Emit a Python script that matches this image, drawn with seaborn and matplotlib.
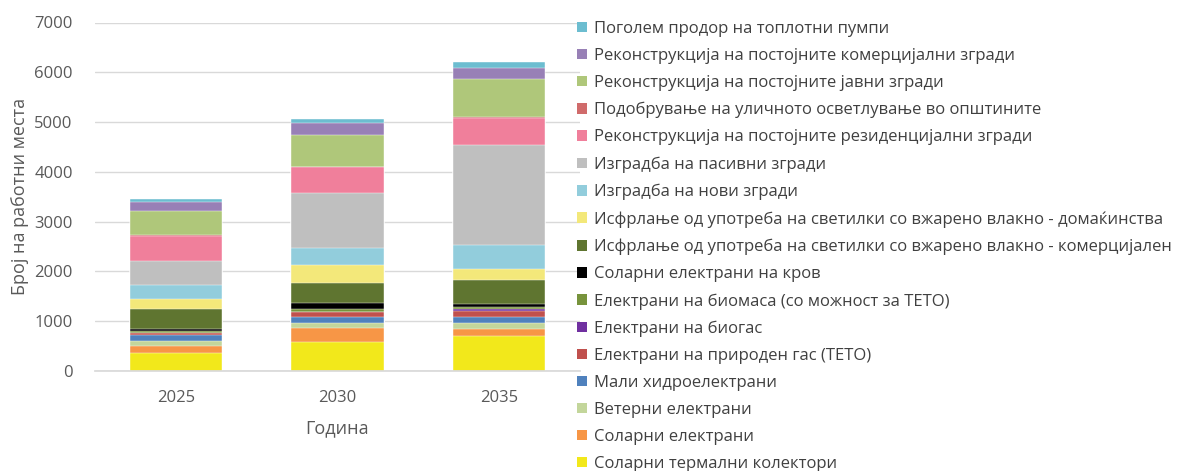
import numpy as np
import pandas as pd
import matplotlib
matplotlib.use("Agg")
import matplotlib.pyplot as plt
from matplotlib.patches import Patch
import seaborn as sns

years = ["2025", "2030", "2035"]

# series listed from bottom of the stack to the top
series_names = [
    "Соларни термални колектори",
    "Соларни електрани",
    "Ветерни електрани",
    "Мали хидроелектрани",
    "Електрани на природен гас (ТЕТО)",
    "Електрани на биогас",
    "Електрани на биомаса (со можност за ТЕТО)",
    "Соларни електрани на кров",
    "Исфрлање од употреба на светилки со вжарено влакно - комерцијален",
    "Исфрлање од употреба на светилки со вжарено влакно - домаќинства",
    "Изградба на нови згради",
    "Изградба на пасивни згради",
    "Реконструкција на постојните резиденцијални згради",
    "Подобрување на уличното осветлување во општините",
    "Реконструкција на постојните јавни згради",
    "Реконструкција на постојните комерцијални згради",
    "Поголем продор на топлотни пумпи",
]

solar_thermal = [367, 576, 703]
solar_pv = [140, 293, 140]
wind = [105, 100, 115]
small_hydro = [110, 120, 133]
gas_teto = [40, 95, 115]
biogas = [10, 10, 30]
biomass = [30, 50, 40]
rooftop_pv = [50, 115, 68]
incand_commercial = [390, 414, 474]
incand_households = [200, 350, 235]
new_buildings = [280, 341, 468]
passive_buildings = [480, 1116, 2022]
resid_reconstruction = [510, 510, 542]
street_lighting = [10, 10, 10]
public_reconstruction = [500, 648, 763]
commercial_reconstruction = [170, 227, 235]
heat_pumps = [65, 94, 120]

series_values = [
    solar_thermal, solar_pv, wind, small_hydro, gas_teto, biogas, biomass,
    rooftop_pv, incand_commercial, incand_households, new_buildings,
    passive_buildings, resid_reconstruction, street_lighting,
    public_reconstruction, commercial_reconstruction, heat_pumps,
]

colors = [
    "#F2E81B", "#F79646", "#C3D69B", "#4F81BD", "#C0504D", "#7030A0",
    "#77933C", "#000000", "#5F7530", "#F3E87A", "#92CDDC", "#BFBFBF",
    "#F07F9B", "#D06B6B", "#AFC77A", "#9880B6", "#6CBDD0",
]

sns.set_theme(style="white")
plt.rcParams["font.family"] = ["Open Sans", "DejaVu Sans"]

fig = plt.figure(figsize=(11.88, 4.71), dpi=100)
ax = fig.add_axes([95 / 1188, 1 - 371 / 471, 485 / 1188, (371 - 22.5) / 471])

vals = np.array(series_values, dtype=float)
cum = np.cumsum(vals, axis=0)

# draw cumulative totals from top series down, so each lower layer overlays
for i in range(len(series_names) - 1, -1, -1):
    df = pd.DataFrame({"Година": years, "value": cum[i]})
    sns.barplot(data=df, x="Година", y="value", color=colors[i], saturation=1,
                width=0.57, ax=ax, edgecolor="white", linewidth=0.3)

ax.set_ylim(0, 7000)
ax.set_xlim(-0.5, 2.5)
ax.set_yticks(range(0, 7001, 1000))
ax.yaxis.grid(True, color="#D9D9D9", linewidth=1)
ax.set_axisbelow(True)
for s in ["top", "right", "left"]:
    ax.spines[s].set_visible(False)
ax.spines["bottom"].set_color("#D9D9D9")
ax.tick_params(axis="both", length=0, labelsize=12, colors="#595959")
ax.tick_params(axis="y", pad=16)
ax.tick_params(axis="x", pad=14)
ax.set_xlabel("Година", fontsize=13, color="#595959", labelpad=9)
ax.set_ylabel("Број на работни места", fontsize=13, color="#595959", labelpad=4)

handles = [Patch(facecolor=colors[i], edgecolor="none", label=series_names[i])
           for i in range(len(series_names) - 1, -1, -1)]
fig.legend(handles=handles, loc="upper left", bbox_to_anchor=(577 / 1188, 1 - 21 / 471),
           frameon=False, fontsize=12, handlelength=0.6, handleheight=0.6,
           handletextpad=0.45, labelspacing=0.66, labelcolor="#404040",
           borderaxespad=0, borderpad=0)

fig.savefig("out.png", dpi=100)
